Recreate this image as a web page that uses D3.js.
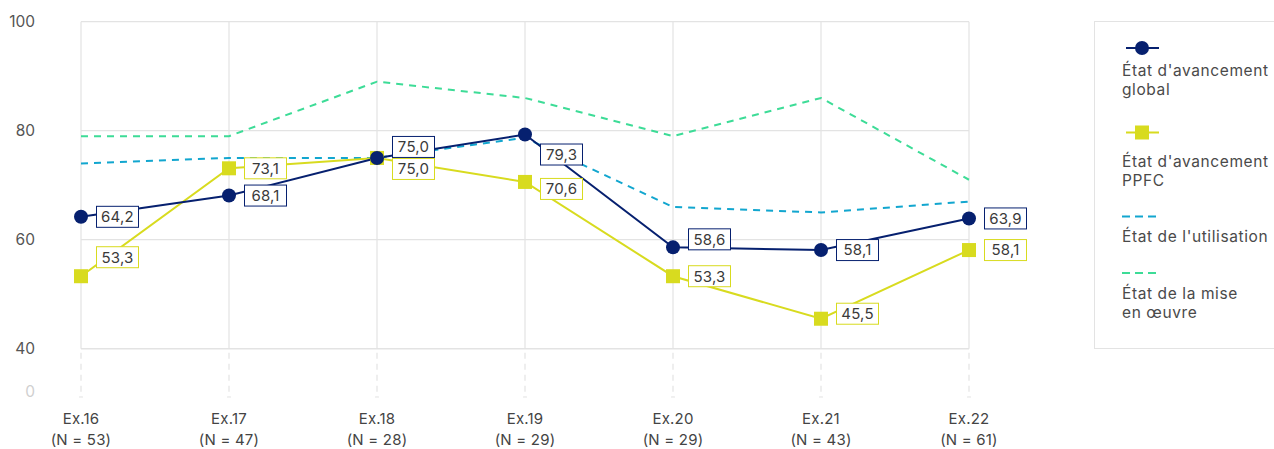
<!DOCTYPE html>
<html>
<head>
<meta charset="utf-8">
<script src="https://cdn.jsdelivr.net/npm/d3@7/dist/d3.min.js"></script>
<style>
  html, body { margin: 0; padding: 0; background: #ffffff; }
  svg { display: block; font-family: Inter, "Open Sans", sans-serif; }
</style>
</head>
<body>
<svg id="chart" width="1274" height="449"></svg>
<script>
// Exercise categories and sample sizes
const categories = ["Ex.16", "Ex.17", "Ex.18", "Ex.19", "Ex.20", "Ex.21", "Ex.22"];
const sampleSizes = ["(N = 53)", "(N = 47)", "(N = 28)", "(N = 29)", "(N = 29)", "(N = 43)", "(N = 61)"];

// Series values (percent)
const avancementGlobal = [64.2, 68.1, 75.0, 79.3, 58.6, 58.1, 63.9];
const avancementPPFC   = [53.3, 73.1, 75.0, 70.6, 53.3, 45.5, 58.1];
const utilisation      = [74.0, 75.0, 75.0, 78.7, 66.0, 65.0, 67.0];
const miseEnOeuvre     = [79.0, 79.0, 89.0, 86.0, 79.0, 86.0, 71.0];

// Y axis ticks (axis is broken between 0 and 40)
const yTicks = [0, 40, 60, 80, 100];

// Vertical nudges for value labels so they do not overlap
const globalLabelShift = [0, 0, -11, 20, -8, 0, 0];
const ppfcLabelShift   = [-19, 0, 11, 7, 0, -5, 0];

const svg = d3.select("#chart");

const x = d3.scalePoint().domain(categories).range([81, 969]);
const y = d3.scaleLinear().domain([0, 40, 100]).range([392, 348.7, 21.7]);

const navy = "#06206f";
const yellow = "#d8db1f";
const blue = "#12a6cf";
const green = "#3ddc97";
const grid = "#e3e3e3";

// Grid: horizontal lines for 40..100
const gGrid = svg.append("g");
gGrid.selectAll("line.h")
  .data(yTicks.filter(t => t >= 40))
  .join("line")
  .attr("x1", x.range()[0]).attr("x2", x.range()[1])
  .attr("y1", d => y(d)).attr("y2", d => y(d))
  .attr("stroke", grid).attr("stroke-width", d => d === 40 ? 1.5 : 1.2);

// Vertical lines: solid in the plot, dashed across the axis break
gGrid.selectAll("line.v")
  .data(categories)
  .join("line")
  .attr("x1", d => x(d)).attr("x2", d => x(d))
  .attr("y1", y(100)).attr("y2", y(40))
  .attr("stroke", grid).attr("stroke-width", 1.2);
gGrid.selectAll("line.vb")
  .data(categories)
  .join("line")
  .attr("x1", d => x(d)).attr("x2", d => x(d))
  .attr("y1", y(40) + 4).attr("y2", y(0) + 5)
  .attr("stroke", grid).attr("stroke-width", 1.2)
  .attr("stroke-dasharray", "6,5");
gGrid.selectAll("line.foot")
  .data(categories)
  .join("line")
  .attr("x1", d => x(d) - 2).attr("x2", d => x(d) + 2)
  .attr("y1", y(0) + 5).attr("y2", y(0) + 5)
  .attr("stroke", grid).attr("stroke-width", 1);

// Y tick labels
svg.append("g").selectAll("text")
  .data(yTicks)
  .join("text")
  .attr("x", 35)
  .attr("y", d => y(d))
  .attr("dy", "0.35em")
  .attr("text-anchor", "end")
  .attr("font-size", 15.5)
  .attr("fill", d => d === 0 ? "#d0d0d0" : "#555555")
  .text(d => d);

// X tick labels (two lines)
const xl = svg.append("g").selectAll("text")
  .data(categories)
  .join("text")
  .attr("text-anchor", "middle")
  .attr("font-size", 15)
  .attr("letter-spacing", 0.2)
  .attr("fill", "#444444");
xl.append("tspan").attr("x", d => x(d)).attr("y", 424).text(d => d);
xl.append("tspan").attr("x", d => x(d)).attr("y", 445).text((d, i) => sampleSizes[i]);

const line = d3.line().x((d, i) => x(categories[i])).y(d => y(d));

// Dashed series
svg.append("path").datum(miseEnOeuvre)
  .attr("d", line).attr("fill", "none")
  .attr("stroke", green).attr("stroke-width", 2).attr("stroke-dasharray", "7,6");
svg.append("path").datum(utilisation)
  .attr("d", line).attr("fill", "none")
  .attr("stroke", blue).attr("stroke-width", 2).attr("stroke-dasharray", "7,6");

// PPFC series
svg.append("path").datum(avancementPPFC)
  .attr("d", line).attr("fill", "none")
  .attr("stroke", yellow).attr("stroke-width", 2);
// Global series
svg.append("path").datum(avancementGlobal)
  .attr("d", line).attr("fill", "none")
  .attr("stroke", navy).attr("stroke-width", 2);

svg.append("g").selectAll("rect")
  .data(avancementPPFC)
  .join("rect")
  .attr("x", (d, i) => x(categories[i]) - 7)
  .attr("y", d => y(d) - 7)
  .attr("width", 14).attr("height", 14)
  .attr("fill", yellow);
svg.append("g").selectAll("circle")
  .data(avancementGlobal)
  .join("circle")
  .attr("cx", (d, i) => x(categories[i]))
  .attr("cy", d => y(d))
  .attr("r", 7)
  .attr("fill", navy);

// Value labels in outlined boxes
const fmt = v => d3.format(".1f")(v).replace(".", ",");
function labels(values, shift, color) {
  const g = svg.append("g").selectAll("g")
    .data(values)
    .join("g")
    .attr("transform", (d, i) => `translate(${x(categories[i]) + 15},${y(d) + shift[i]})`);
  g.append("rect")
    .attr("x", 0.5).attr("y", -10.5)
    .attr("width", 42).attr("height", 21)
    .attr("fill", "#ffffff")
    .attr("stroke", color).attr("stroke-width", 1);
  g.append("text")
    .attr("x", 21.5).attr("y", 0)
    .attr("dy", "0.36em")
    .attr("text-anchor", "middle")
    .attr("font-size", 15)
    .attr("letter-spacing", 0.2)
    .attr("fill", "#3a3a3a")
    .text(d => fmt(d));
}
labels(avancementPPFC, ppfcLabelShift, yellow);
labels(avancementGlobal, globalLabelShift, navy);

// Legend
const legend = svg.append("g");
legend.append("rect")
  .attr("x", 1094.5).attr("y", 21.5)
  .attr("width", 200).attr("height", 327)
  .attr("fill", "#ffffff").attr("stroke", "#e3e3e3");

const legendItems = [
  { lines: ["État d'avancement", "global"], color: navy, type: "circle", sy: 48, ty: 76 },
  { lines: ["État d'avancement", "PPFC"], color: yellow, type: "square", sy: 132.5, ty: 167 },
  { lines: ["État de l'utilisation"], color: blue, type: "dash", sy: 216.5, ty: 242 },
  { lines: ["État de la mise", "en œuvre"], color: green, type: "dash", sy: 273, ty: 298.5 }
];
legendItems.forEach(it => {
  if (it.type === "dash") {
    legend.append("line")
      .attr("x1", 1122).attr("x2", 1156)
      .attr("y1", it.sy).attr("y2", it.sy)
      .attr("stroke", it.color).attr("stroke-width", 2)
      .attr("stroke-dasharray", "8,5");
  } else {
    legend.append("line")
      .attr("x1", 1126).attr("x2", 1159)
      .attr("y1", it.sy).attr("y2", it.sy)
      .attr("stroke", it.color).attr("stroke-width", 2);
    if (it.type === "circle") {
      legend.append("circle").attr("cx", 1142).attr("cy", it.sy).attr("r", 7).attr("fill", it.color);
    } else {
      legend.append("rect").attr("x", 1135).attr("y", it.sy - 7).attr("width", 14).attr("height", 14).attr("fill", it.color);
    }
  }
  const t = legend.append("text")
    .attr("font-size", 15.5)
    .attr("letter-spacing", 0.6)
    .attr("fill", "#4a4a4a");
  it.lines.forEach((s, k) => {
    t.append("tspan").attr("x", 1122).attr("y", it.ty + k * 19).text(s);
  });
});
</script>
</body>
</html>
